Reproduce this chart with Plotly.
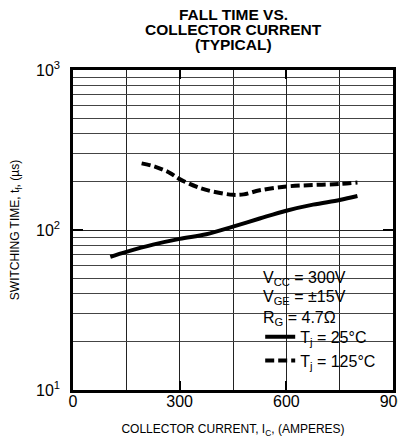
import plotly.graph_objects as go

# Data
current_25 = [105, 150, 225, 300, 375, 450, 525, 600, 675, 750, 800]
time_25 = [68, 73, 81, 88, 94, 105, 118, 132, 144, 154, 163]
current_125 = [193, 230, 270, 300, 360, 410, 450, 480, 525, 600, 675, 750, 800]
time_125 = [261, 249, 229, 208, 182, 171, 166, 167, 177, 187, 191, 194, 198]

x_ticks = [0, 300, 600, 900]
y_ticks = [10, 100, 1000]
y_ticktext = ["10<sup>1</sup>", "10<sup>2</sup>", "10<sup>3</sup>"]
y_minor = [m * d for d in (10, 100) for m in range(2, 10)]
conditions = ["V<sub>CC</sub> = 300V", "V<sub>GE</sub> = \u00b115V", "R<sub>G</sub> = 4.7\u03a9"]
condition_y = [0.35, 0.288, 0.225]
title_lines = ["FALL TIME VS.", "COLLECTOR CURRENT", "(TYPICAL)"]
title_y = [1.174, 1.126, 1.079]

FONT = "Liberation Sans, Arial, Helvetica, sans-serif"
W, H = 398, 430
L, R, T, B = 65, 13, 62, 48

fig = go.Figure()
fig.add_trace(go.Scatter(x=current_25, y=time_25, mode="lines",
                         line=dict(color="black", width=4, shape="spline"),
                         name="T<sub>j</sub> = 25\u00b0C"))
fig.add_trace(go.Scatter(x=current_125, y=time_125, mode="lines",
                         line=dict(color="black", width=4, shape="spline", dash="9px,4px"),
                         name="T<sub>j</sub> = 125\u00b0C"))

fig.add_shape(type="rect", xref="paper", yref="paper", x0=0.575, x1=0.966, y0=0.019, y1=0.4,
              fillcolor="white", line=dict(width=0), layer="between")

for txt, yy in zip(conditions, condition_y):
    fig.add_annotation(text=txt, xref="paper", yref="paper", x=0.588, y=yy,
                       xanchor="left", yanchor="middle", showarrow=False,
                       font=dict(family=FONT, size=16, color="black"))

for txt, yy in zip(title_lines, title_y):
    fig.add_annotation(text="<b>" + txt + "</b>", xref="paper", yref="paper", x=0.5, y=yy,
                       xanchor="center", yanchor="middle", showarrow=False,
                       font=dict(family=FONT, size=15.5, color="black"))

fig.update_layout(
    width=W, height=H,
    margin=dict(l=L, r=R, t=T, b=B, autoexpand=False),
    paper_bgcolor="white", plot_bgcolor="white",
    font=dict(family=FONT, color="black"),
    legend=dict(x=0.585, xanchor="left", y=0.038, yanchor="bottom",
                bgcolor="rgba(0,0,0,0)", font=dict(family=FONT, size=16, color="black"),
                itemwidth=30, tracegroupgap=0),
    showlegend=True,
)

fig.update_xaxes(
    range=[0, 900], tickvals=x_ticks, ticks="inside", ticklen=9, tickwidth=2, tickcolor="black",
    showline=True, linewidth=2.5, linecolor="black", mirror="allticks",
    showgrid=True, gridcolor="#222", gridwidth=1,
    minor=dict(dtick=150, showgrid=True, gridcolor="#222", gridwidth=1, ticks=""),
    tickfont=dict(family=FONT, size=16, color="black"), ticklabelstandoff=-5,
    ticklabeloverflow="allow",
    title=dict(text="COLLECTOR CURRENT, I<sub>C</sub>, (AMPERES)",
               font=dict(family=FONT, size=12, color="black"), standoff=20),
    zeroline=False, automargin=False,
)
fig.update_yaxes(
    type="log", range=[1, 3], tickvals=y_ticks, ticktext=y_ticktext,
    ticks="inside", ticklen=10, tickwidth=2, tickcolor="black",
    showline=True, linewidth=2.5, linecolor="black", mirror="allticks",
    showgrid=True, gridcolor="#222", gridwidth=1,
    minor=dict(tickvals=y_minor, showgrid=True, gridcolor="#444", gridwidth=1, ticks=""),
    tickfont=dict(family=FONT, size=16, color="black"), ticklabelstandoff=7,
    title=dict(text="SWITCHING TIME, t<sub>f</sub>, (\u00b5s)",
               font=dict(family=FONT, size=12, color="black"), standoff=20),
    zeroline=False, automargin=False,
)

fig.write_html("out.html")
